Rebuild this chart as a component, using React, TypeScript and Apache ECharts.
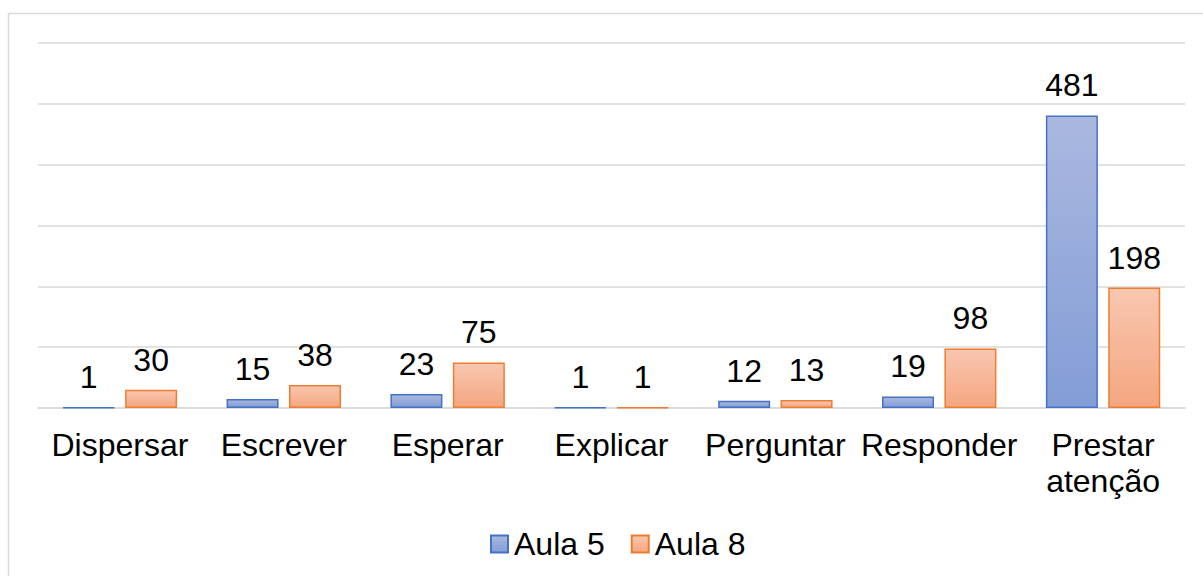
import React, { useEffect, useRef } from "react";
import * as echarts from "echarts";

const categories = ["Dispersar", "Escrever", "Esperar", "Explicar", "Perguntar", "Responder", "Prestar\natenção"];
const aula5 = [1, 15, 23, 1, 12, 19, 481];
const aula8 = [30, 38, 75, 1, 13, 98, 198];
const seriesNames = ["Aula 5", "Aula 8"];

const FONT = "'Liberation Sans', Arial, sans-serif";

export default function App() {
  const ref = useRef<HTMLDivElement>(null);
  useEffect(() => {
    if (!ref.current) return;
    const chart = echarts.init(ref.current, undefined, { renderer: "svg" });
    const blueFill = new echarts.graphic.LinearGradient(0, 0, 0, 1, [
      { offset: 0, color: "#aab8df" },
      { offset: 1, color: "#839dd6" },
    ]);
    const orangeFill = new echarts.graphic.LinearGradient(0, 0, 0, 1, [
      { offset: 0, color: "#f9c7b0" },
      { offset: 1, color: "#f4a680" },
    ]);
    const label = {
      show: true,
      position: "top" as const,
      distance: 14,
      color: "#000",
      fontFamily: FONT,
      fontSize: 32,
    };
    chart.setOption({
      animation: false,
      backgroundColor: "#fff",
      graphic: [
        {
          type: "rect",
          shape: { x: 8.5, y: 13.5, width: 1300, height: 700 },
          style: { fill: "none", stroke: "#d9d9d9", lineWidth: 1.5 },
          silent: true,
        },
      ],
      grid: { left: 38, right: 18, top: 43, bottom: 168, containLabel: false },
      legend: {
        data: seriesNames,
        top: 523,
        left: 485,
        itemWidth: 17,
        itemHeight: 17,
        itemGap: 26,
        icon: "rect",
        textStyle: { fontFamily: FONT, fontSize: 32, color: "#000", padding: [0, 0, 0, 1] },
      },
      xAxis: {
        type: "category",
        data: categories,
        axisLine: { show: true, lineStyle: { color: "#d9d9d9", width: 1.5 } },
        axisTick: { show: false },
        axisLabel: {
          interval: 0,
          margin: 19,
          color: "#000",
          fontFamily: FONT,
          fontSize: 32,
          lineHeight: 36,
        },
      },
      yAxis: {
        type: "value",
        min: 0,
        max: 600,
        interval: 100,
        axisLabel: { show: false },
        axisLine: { show: false },
        axisTick: { show: false },
        splitLine: { lineStyle: { color: "#d9d9d9", width: 1.5 } },
      },
      series: [
        {
          name: seriesNames[0],
          type: "bar",
          data: aula5,
          barWidth: 52,
          barGap: "20%",
          itemStyle: { color: blueFill, borderColor: "#4472c4", borderWidth: 1.5 },
          label,
        },
        {
          name: seriesNames[1],
          type: "bar",
          data: aula8,
          barWidth: 52,
          barGap: "20%",
          itemStyle: { color: orangeFill, borderColor: "#ed7d31", borderWidth: 1.5 },
          label,
        },
      ],
    });
    return () => chart.dispose();
  }, []);
  return (
    <div
      ref={ref}
      style={{ position: "absolute", left: 0, top: 0, width: 1203, height: 576 }}
    />
  );
}
